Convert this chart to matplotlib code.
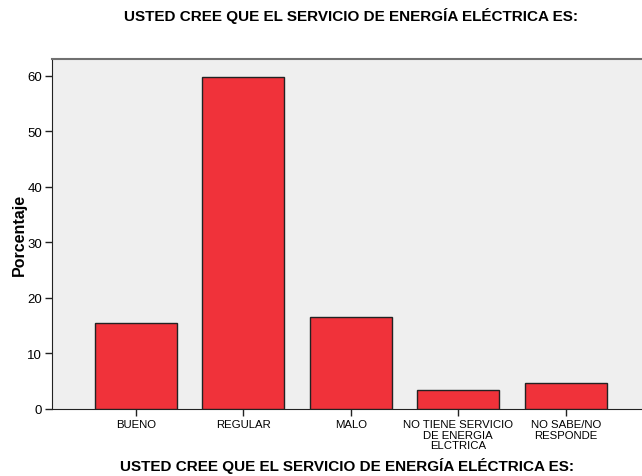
import matplotlib
matplotlib.use("Agg")
import matplotlib.pyplot as plt

categories = ["BUENO", "REGULAR", "MALO", "NO TIENE SERVICIO\nDE ENERGIA\nELCTRICA", "NO SABE/NO\nRESPONDE"]
values = [15.5, 59.8, 16.6, 3.4, 4.7]
yticks = [0, 10, 20, 30, 40, 50, 60]
title = "USTED CREE QUE EL SERVICIO DE ENERGÍA ELÉCTRICA ES:"

plt.rcParams['font.family'] = ['Liberation Sans', 'DejaVu Sans']

fig = plt.figure(figsize=(6.42, 4.77), dpi=100)
ax = fig.add_axes([52/642, 67/477, 590/642, 350/477])
ax.set_facecolor("#EFEFEF")
x = list(range(len(categories)))
ax.bar(x, values, width=0.76, color="#F0323A", edgecolor="#222222", linewidth=1.0, zorder=3)
ax.set_xlim(-0.78, 4.71)
ax.set_ylim(0, 63.06)
ax.set_yticks(yticks)
ax.set_yticklabels([str(t) for t in yticks], fontsize=9.5)
ax.set_xticks(x)
ax.set_xticklabels(categories, fontsize=8.2, linespacing=1.1)
ax.tick_params(axis='both', length=5, width=1, color="#222222", pad=2)
ax.spines["right"].set_visible(False)
ax.spines["top"].set_color("#707070")
ax.spines["top"].set_linewidth(1.5)
ax.spines["left"].set_color("#222222")
ax.spines["bottom"].set_color("#222222")
ax.set_ylabel("Porcentaje", fontsize=11.5, fontweight="bold")
ax.yaxis.set_label_coords(-0.056, 0.5)
ax.yaxis.label.set_va("center")
fig.text(347/642, 1 - 466/477, title, ha="center", va="center", fontsize=11, fontweight="bold")
fig.text(351/642, 1 - 16/477, title, ha="center", va="center", fontsize=11, fontweight="bold")
fig.savefig("out.png", dpi=100)
